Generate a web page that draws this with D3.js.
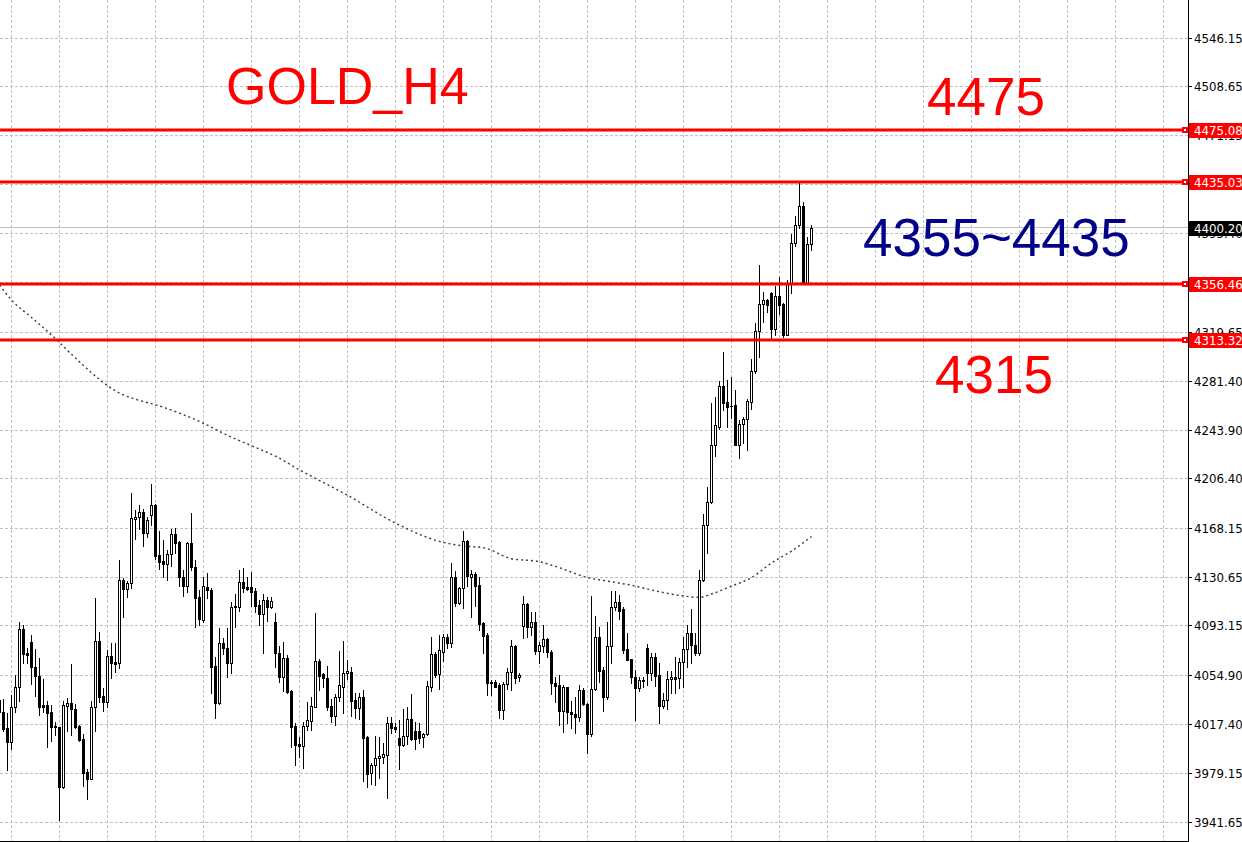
<!DOCTYPE html>
<html><head><meta charset="utf-8">
<script src="https://cdn.jsdelivr.net/npm/d3@7"></script>
<style>html,body{margin:0;padding:0;background:#fff;} svg{display:block;}</style>
</head><body>
<svg id="chart" width="1242" height="842"></svg>
<script>
// ---- data (GOLD H4 candles) ----
const opens = [4035.9,4026.5,4014.6,4003.8,4030.3,4045.7,4090.5,4072.0,4080.4,4061.2,4054.5,4031.9,
4031.9,4026.5,4015.9,4014.9,3969.1,4031.5,4033.4,4029.0,4015.9,4005.9,3980.4,3975.3,
4030.3,4081.2,4039.0,4034.6,4069.9,4065.0,4064.7,4128.5,4121.3,4125.9,4175.5,4176.8,
4180.7,4164.5,4178.6,4186.3,4147.7,4143.4,4140.6,4148.3,4163.7,4157.5,4130.6,4124.1,
4156.8,4138.7,4115.6,4097.6,4123.3,4120.8,4062.2,4033.9,4079.7,4075.8,4064.2,4107.4,
4107.9,4126.7,4122.8,4122.8,4120.2,4109.2,4102.0,4113.1,4107.9,4095.9,4072.0,4053.4,
4068.1,4042.9,4015.9,4001.8,4000.7,4016.1,4020.0,4030.8,4066.0,4056.0,4052.7,4031.3,
4023.8,4038.0,4046.2,4056.5,4057.8,4035.9,4030.0,4038.0,4007.6,3979.4,3985.8,3991.0,
3992.2,3993.5,4018.4,4015.4,4006.9,4001.2,4008.4,4021.3,4012.0,4012.0,4007.6,4009.5,
4046.2,4071.4,4055.8,4073.2,4084.8,4080.1,4130.6,4110.5,4122.1,4158.8,4131.0,4132.9,
4124.6,4095.1,4086.1,4049.6,4050.1,4047.5,4028.2,4048.1,4057.3,4077.6,4053.7,4093.0,
4109.7,4092.5,4095.9,4074.0,4077.8,4082.7,4073.2,4049.3,4047.5,4027.7,4045.7,4026.7,
4024.9,4023.1,4043.7,4032.9,4009.5,4044.2,4084.3,4059.1,4038.5,4077.6,4107.9,4111.7,
4106.1,4075.0,4067.3,4053.9,4045.0,4051.4,4075.8,4056.5,4068.9,4055.2,4031.5,4035.9,
4051.9,4053.9,4052.7,4065.0,4075.0,4087.4,4078.4,4072.0,4128.5,4170.9,4188.4,4232.6,
4246.7,4278.1,4265.9,4262.9,4263.4,4232.6,4248.5,4252.4,4265.9,4289.9,4320.7,4341.0,
4344.4,4349.5,4321.8,4347.4,4341.3,4317.4,4357.7,4388.1,4402.2,4416.8,4357.2,4387.5];
const highs = [4041.6,4036.5,4025.7,4039.8,4055.2,4095.9,4093.8,4075.8,4086.1,4075.0,4068.1,4051.9,
4035.2,4032.1,4019.2,4015.4,4035.4,4037.3,4063.5,4032.6,4016.7,4009.5,3982.5,4035.4,
4114.4,4088.1,4045.0,4074.5,4079.7,4079.9,4143.9,4129.8,4127.7,4195.3,4182.4,4186.3,
4183.2,4177.3,4202.3,4186.8,4166.3,4159.3,4151.6,4168.0,4168.3,4158.8,4136.2,4158.0,
4180.4,4143.9,4120.8,4131.0,4134.1,4122.1,4069.3,4091.2,4083.5,4091.2,4111.3,4117.4,
4136.2,4137.5,4131.0,4134.4,4122.1,4113.1,4117.4,4115.6,4115.6,4102.8,4077.6,4080.4,
4070.6,4043.5,4018.4,4007.6,4019.2,4034.2,4038.5,4102.8,4067.3,4057.0,4062.2,4036.5,
4040.6,4073.7,4081.4,4066.8,4061.6,4041.6,4041.6,4043.7,4008.0,3987.1,4008.2,4007.6,
4003.0,4023.1,4023.1,4018.0,4020.5,4028.8,4030.3,4040.3,4019.2,4018.4,4010.7,4050.8,
4084.8,4073.2,4086.1,4086.6,4086.6,4141.3,4135.6,4122.8,4166.3,4159.3,4136.2,4134.9,
4130.6,4096.3,4087.4,4051.4,4051.4,4048.8,4050.1,4060.4,4082.2,4078.4,4056.5,4116.1,
4110.5,4104.0,4103.6,4080.9,4093.8,4083.5,4074.5,4053.9,4055.2,4047.5,4046.2,4035.2,
4038.5,4047.5,4045.0,4033.4,4116.1,4100.7,4092.5,4061.6,4096.3,4120.0,4120.2,4116.9,
4107.4,4087.8,4067.8,4059.1,4053.9,4053.9,4079.1,4072.0,4072.0,4064.2,4041.1,4058.5,
4058.5,4069.3,4068.6,4084.3,4093.8,4105.9,4087.4,4136.2,4179.1,4200.4,4264.7,4269.8,
4281.9,4304.5,4282.7,4285.2,4275.0,4251.8,4253.9,4267.8,4298.6,4326.9,4371.4,4350.3,
4345.4,4350.8,4355.2,4362.3,4341.8,4359.8,4395.0,4409.1,4435.0,4420.2,4393.2,4402.2];
const lows = [4012.8,4012.0,3982.0,3998.2,4027.0,4035.4,4064.2,4064.2,4048.1,4039.3,4024.4,4026.9,
3999.9,4004.6,4009.0,3943.4,3967.9,4012.3,4009.0,4014.1,4004.3,3969.6,3959.6,3975.0,
4012.3,4034.2,4027.7,4030.3,4053.1,4057.3,4060.9,4100.2,4115.6,4122.5,4160.1,4167.8,
4154.9,4161.9,4170.9,4144.7,4136.7,4131.0,4128.5,4139.5,4149.1,4124.1,4116.4,4119.5,
4136.2,4092.0,4093.8,4096.3,4114.4,4041.1,4021.8,4032.9,4071.2,4053.9,4056.5,4092.5,
4104.8,4119.0,4120.8,4108.7,4104.0,4093.8,4072.4,4097.1,4107.0,4061.2,4050.1,4043.1,
4041.6,3999.9,3985.8,3992.2,3983.7,4012.8,4012.8,4030.5,4043.7,4046.2,4028.2,4019.2,
4016.7,4035.4,4026.2,4051.9,4023.6,4022.3,4021.1,3973.7,3969.1,3971.2,3970.4,3975.6,
3987.6,3960.2,4010.3,4011.5,3982.5,4000.8,4001.8,4005.3,3997.9,4003.0,3999.9,4009.0,
4043.1,4053.9,4044.2,4066.2,4075.8,4076.6,4108.4,4110.2,4106.6,4124.1,4100.2,4108.4,
4089.9,4072.4,4039.8,4039.8,4046.0,4021.8,4021.3,4044.4,4043.7,4049.3,4050.8,4083.5,
4084.3,4086.1,4071.4,4064.7,4073.2,4068.9,4040.6,4034.6,4016.7,4011.5,4018.4,4014.1,
4010.3,4020.0,4032.1,3995.3,4008.2,4044.0,4050.1,4027.7,4036.5,4064.7,4105.3,4098.2,
4072.0,4066.5,4049.3,4020.5,4043.1,4046.2,4047.5,4051.4,4046.7,4018.4,4029.5,4029.0,
4041.6,4041.1,4045.0,4045.7,4061.2,4064.2,4070.6,4070.6,4128.0,4149.5,4188.1,4224.1,
4244.7,4259.5,4246.7,4253.2,4232.3,4222.8,4233.9,4228.7,4260.3,4288.3,4300.6,4327.6,
4335.3,4314.8,4317.4,4333.6,4316.1,4317.2,4350.0,4386.0,4399.9,4356.5,4356.5,4382.9];
const closes = [4026.7,4013.4,4003.8,4030.3,4045.7,4090.5,4071.2,4070.4,4061.2,4054.5,4030.8,4030.8,
4026.2,4015.4,4014.9,3969.1,4031.9,4033.4,4029.0,4015.4,4005.1,3979.9,3975.3,4030.3,
4081.2,4038.5,4034.6,4069.9,4064.2,4063.9,4128.5,4121.3,4125.9,4176.0,4176.8,4180.7,
4164.5,4174.7,4186.3,4147.2,4142.6,4140.6,4148.5,4163.7,4156.8,4130.6,4124.1,4156.8,
4138.7,4114.4,4098.2,4123.8,4120.8,4061.6,4033.9,4079.7,4075.8,4064.2,4107.4,4108.4,
4126.7,4122.1,4121.5,4119.5,4108.7,4102.0,4113.1,4107.9,4112.3,4072.0,4053.4,4068.1,
4042.3,4015.4,4001.2,4000.5,4016.1,4020.5,4031.5,4066.0,4054.7,4052.7,4030.8,4023.8,
4038.0,4047.5,4056.5,4058.3,4035.4,4030.0,4038.0,4006.9,3978.9,3985.8,3991.0,3992.8,
3994.3,4018.4,4014.6,4013.4,4001.2,4008.4,4021.3,4005.6,4005.6,4006.4,4009.5,4046.7,
4071.4,4055.2,4074.5,4084.8,4080.1,4130.6,4110.5,4122.1,4158.8,4131.6,4132.9,4124.1,
4094.5,4085.5,4048.8,4048.8,4046.2,4028.2,4048.1,4057.3,4077.6,4053.1,4055.2,4109.7,
4092.5,4095.9,4074.0,4078.4,4082.7,4073.2,4049.3,4047.0,4027.7,4046.2,4026.5,4024.9,
4023.1,4043.7,4032.9,4009.5,4044.2,4084.3,4058.5,4038.5,4077.6,4107.9,4111.3,4104.8,
4074.5,4066.8,4053.4,4045.4,4051.4,4050.8,4056.5,4068.9,4054.5,4031.5,4035.9,4051.9,
4053.4,4051.9,4065.0,4075.3,4087.4,4078.4,4072.0,4128.5,4170.9,4188.4,4232.6,4248.0,
4278.1,4265.2,4262.1,4262.6,4232.6,4248.5,4252.4,4266.5,4289.9,4320.7,4341.0,4344.4,
4340.5,4322.0,4347.4,4340.5,4317.4,4357.7,4388.5,4402.2,4416.8,4357.2,4387.5,4400.2];

// moving average (dotted), sampled at bar indices
const maIndex = [0,3,8,13,19,25,29,35,39,45,51,57,63,69,75,87,99,110,116,121,128,135,139,147,153,158,165,171,175,178,183,188,193,198,203];
const maValues = [4355.9,4344.4,4330.9,4317.4,4299.6,4283.1,4274.2,4266.9,4263.6,4257.1,4249.3,4240.0,4232.0,4223.9,4213.4,4193.8,4172.3,4158.2,4154.7,4153.4,4144.9,4142.6,4139.0,4130.4,4127.1,4124.4,4119.4,4116.1,4115.1,4117.7,4123.8,4130.3,4141.6,4150.8,4162.0];

const tickLabels = ["4546.15","4508.65","4471.15","4433.65","4395.40","4357.90","4319.65","4281.40","4243.90","4206.40","4168.15","4130.65","4093.15","4054.90","4017.40","3979.15","3941.65"];
const levelPrices = [4475.08, 4435.03, 4356.46, 4313.32];
const levelLabels = ["4475.08","4435.03","4356.46","4313.32"];
const lastPrice = 4400.20;
const lastLabel = "4400.20";
const titleText = "GOLD_H4";
const noteTexts = ["4475", "4355~4435", "4315"];

// ---- layout ----
const W = 1242, H = 842, plotR = 1188, plotB = 841;
const svg = d3.select("#chart");
svg.append("rect").attr("width", W).attr("height", H).attr("fill", "#fff");

const x = d3.scaleLinear().domain([0, 297]).range([-0.5, 1187.5]);
const y = d3.scaleLinear().domain([3941.65, 4546.15]).range([822.3, 38.3]);
const snap = v => Math.round(v - 0.5) + 0.5;

svg.append("clipPath").attr("id", "plot").append("rect")
  .attr("x", 0).attr("y", 0).attr("width", plotR).attr("height", plotB);
const g = svg.append("g").attr("clip-path", "url(#plot)");

// grid
const gridColor = "#c0c0c0";
g.append("g").selectAll("line").data(tickLabels).join("line")
  .attr("x1", 0).attr("x2", plotR)
  .attr("y1", d => snap(y(+d))).attr("y2", d => snap(y(+d)))
  .attr("stroke", gridColor).attr("stroke-width", 1).attr("stroke-dasharray", "3,2");
g.append("g").selectAll("line").data(d3.range(3, 297, 12)).join("line")
  .attr("x1", d => snap(x(d))).attr("x2", d => snap(x(d)))
  .attr("y1", 0).attr("y2", plotB)
  .attr("stroke", gridColor).attr("stroke-width", 1).attr("stroke-dasharray", "3,2");

// bid line
g.append("line").attr("x1", 0).attr("x2", plotR)
  .attr("y1", snap(y(lastPrice))).attr("y2", snap(y(lastPrice)))
  .attr("stroke", "#c0c0c0").attr("stroke-width", 1);

// moving average
const maPts = maIndex.map((d, i) => [d, maValues[i]]);
g.append("path").datum(maPts)
  .attr("d", d3.line().x(d => x(d[0])).y(d => y(d[1])).curve(d3.curveMonotoneX))
  .attr("fill", "none").attr("stroke", "#1f4444").attr("stroke-width", 1.4)
  .attr("stroke-dasharray", "2,3");

// candles
const bars = opens.map((o, i) => ({i, o, h: highs[i], l: lows[i], c: closes[i]}));
const cg = g.append("g");
cg.selectAll("line.wick").data(bars).join("line").attr("class", "wick")
  .attr("x1", d => snap(x(d.i))).attr("x2", d => snap(x(d.i)))
  .attr("y1", d => Math.round(y(d.h))).attr("y2", d => Math.round(y(d.l)) + 1)
  .attr("stroke", "#000").attr("stroke-width", 1);
cg.selectAll("rect.body").data(bars).join("rect").attr("class", "body")
  .attr("x", d => snap(x(d.i)) - 1)
  .attr("width", 2)
  .attr("y", d => Math.round(y(Math.max(d.o, d.c))) + 0.5)
  .attr("height", d => Math.max(0.01, Math.round(y(Math.min(d.o, d.c))) - Math.round(y(Math.max(d.o, d.c)))))
  .attr("fill", d => d.c >= d.o ? "#fff" : "#000")
  .attr("stroke", "#000").attr("stroke-width", 1);

// red level lines
const lg = svg.append("g");
levelPrices.forEach(p => {
  const yy = Math.round(y(p));
  lg.append("rect").attr("x", 0).attr("y", yy - 1.5).attr("width", 1184).attr("height", 3).attr("fill", "#ff0000");
  lg.append("rect").attr("x", 1182).attr("y", yy - 3).attr("width", 6).attr("height", 6).attr("fill", "#ff0000");
  lg.append("rect").attr("x", 1184).attr("y", yy - 1).attr("width", 2).attr("height", 2).attr("fill", "#fff");
});

// right axis
const ax = svg.append("g");
ax.append("rect").attr("x", plotR + 1).attr("y", 0).attr("width", W - plotR).attr("height", H).attr("fill", "#fff");
ax.append("line").attr("x1", plotR + 0.5).attr("x2", plotR + 0.5).attr("y1", 0).attr("y2", plotB + 1)
  .attr("stroke", "#000").attr("stroke-width", 1);
ax.append("line").attr("x1", 0).attr("x2", plotR + 1).attr("y1", plotB + 0.5).attr("y2", plotB + 0.5)
  .attr("stroke", "#000").attr("stroke-width", 1);
const fontAxis = "'DejaVu Sans', Tahoma, sans-serif";
ax.selectAll("line.tk").data(tickLabels).join("line").attr("class", "tk")
  .attr("x1", plotR).attr("x2", plotR + 4)
  .attr("y1", d => snap(y(+d))).attr("y2", d => snap(y(+d)))
  .attr("stroke", "#000");
ax.selectAll("text.tl").data(tickLabels).join("text").attr("class", "tl")
  .attr("x", 1194).attr("y", d => y(+d) + 4.5)
  .attr("font-family", fontAxis).attr("font-size", 11.8).attr("fill", "#000")
  .text(d => d);

// price labels
function priceTag(p, label, bg) {
  const yy = Math.round(y(p));
  ax.append("rect").attr("x", plotR + 1).attr("y", yy - 7).attr("width", W - plotR).attr("height", 15).attr("fill", bg);
  ax.append("text").attr("x", 1194).attr("y", yy + 5)
    .attr("font-family", fontAxis).attr("font-size", 11.8).attr("fill", "#fff").text(label);
}
levelPrices.forEach((p, i) => priceTag(p, levelLabels[i], "#ff0000"));
priceTag(lastPrice, lastLabel, "#000");

// annotations
const fontBig = "'Liberation Sans', Arial, sans-serif";
const tg = svg.append("g").attr("font-family", fontBig);
tg.append("text").attr("x", 226).attr("y", 104).attr("font-size", 52).attr("fill", "#ff0000").text(titleText);
tg.append("text").attr("x", 927).attr("y", 115).attr("font-size", 53).attr("fill", "#ff0000").text(noteTexts[0]);
tg.append("text").attr("x", 863).attr("y", 256).attr("font-size", 53).attr("fill", "#000088").text(noteTexts[1]);
tg.append("text").attr("x", 935).attr("y", 393).attr("font-size", 53).attr("fill", "#ff0000").text(noteTexts[2]);
</script>
</body></html>
